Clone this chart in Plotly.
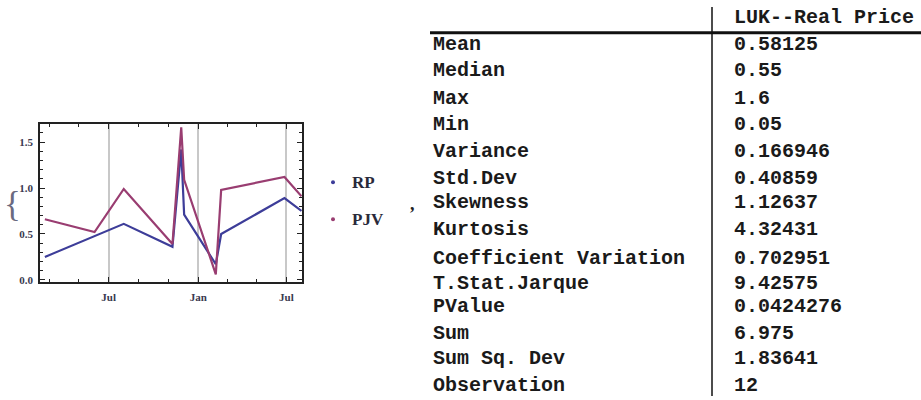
import plotly.graph_objects as go

# ---------------- data ----------------
dates = ["2010-02-20", "2010-06-02", "2010-08-01", "2010-11-09", "2010-11-27",
         "2010-12-03", "2011-02-06", "2011-02-17", "2011-06-27", "2011-08-01"]
rp = [0.25, 0.475, 0.61, 0.36, 1.42, 0.71, 0.17, 0.50, 0.89, 0.75]
pjv = [0.66, 0.52, 0.99, 0.39, 1.66, 1.09, 0.06, 0.98, 1.12, 0.91]

series_names = ["RP", "PJV"]
date_tick_vals = ["2010-07-01", "2011-01-01", "2011-07-01"]
date_tick_text = ["Jul", "Jan", "Jul"]
y_tick_vals = [0.0, 0.5, 1.0, 1.5]
y_tick_text = ["0.0", "0.5", "1.0", "1.5"]

table_header = "LUK--Real Price"
stat_names = ["Mean", "Median", "Max", "Min", "Variance", "Std.Dev", "Skewness",
              "Kurtosis", "Coefficient Variation", "T.Stat.Jarque", "PValue", "Sum",
              "Sum Sq. Dev", "Observation"]
stat_values = ["0.58125", "0.55", "1.6", "0.05", "0.166946", "0.40859", "1.12637",
               "4.32431", "0.702951", "9.42575", "0.0424276", "6.975", "1.83641", "12"]

# ---------------- layout constants ----------------
W, H = 921, 400
colors = ["#3d3d99", "#993d71"]


def px(x):
    return x / W


def py(y):
    return 1 - y / H


fig = go.Figure()
for name, vals, c in zip(series_names, [rp, pjv], colors):
    fig.add_trace(go.Scatter(x=dates, y=vals, mode="lines", name=name,
                             line=dict(color=c, width=2.2), showlegend=False))

tickfont = dict(family="Liberation Serif", size=11, color="#3a3a50", weight="bold")
fig.update_layout(
    width=W, height=H, margin=dict(l=0, r=0, t=0, b=0),
    paper_bgcolor="white", plot_bgcolor="white",
    xaxis=dict(domain=[px(40), px(302)], type="date",
               range=["2010-02-10", "2011-08-02"],
               tickvals=date_tick_vals, ticktext=date_tick_text,
               ticks="inside", ticklen=5, tickcolor="#222", tickwidth=1,
               ticklabelstandoff=4,
               showgrid=True, gridcolor="#c8c8c8", gridwidth=1.5,
               showline=True, linecolor="#222", linewidth=1.5, mirror="allticks",
               zeroline=False, tickfont=tickfont,
               minor=dict(tick0="2010-01-01", dtick="M2", ticks="inside",
                          ticklen=3, tickcolor="#222", showgrid=False)),
    yaxis=dict(domain=[py(285), py(125)], range=[-0.025, 1.70],
               tickvals=y_tick_vals, ticktext=y_tick_text,
               ticks="inside", ticklen=5, tickcolor="#222", tickwidth=1,
               ticklabelstandoff=3,
               showgrid=False, showline=True, linecolor="#222", linewidth=1.5,
               mirror="allticks", zeroline=False, tickfont=tickfont,
               minor=dict(dtick=0.1, ticks="inside", ticklen=3, tickcolor="#222",
                          showgrid=False)),
)

# legend (manual, Mathematica style)
leg_y = [184, 221.5]
for name, c, yy in zip(series_names, colors, leg_y):
    fig.add_shape(type="circle", xref="paper", yref="paper",
                  x0=px(331), x1=px(335), y0=py(yy + 2), y1=py(yy - 2),
                  fillcolor=c, line=dict(width=0))
    fig.add_annotation(x=px(350), y=py(yy), xref="paper", yref="paper",
                       text="<b>%s</b>" % name, showarrow=False, xanchor="left", yanchor="middle",
                       font=dict(family="Liberation Serif", size=17, color="#2a2a3a"))
fig.add_annotation(x=px(412), y=py(206), xref="paper", yref="paper", text="<b>,</b>",
                   showarrow=False, font=dict(family="Liberation Serif", size=18, color="#222"))
fig.add_annotation(x=px(2), y=py(207), xref="paper", yref="paper", text="{",
                   showarrow=False, xanchor="left",
                   font=dict(family="Liberation Serif", size=35, color="#6a6a80"))

# table
mono = dict(family="Liberation Mono", size=20, color="#1a1a1a")
row_y = [45, 71.7, 99, 126, 152.7, 180, 205, 231.7, 261, 286, 310, 336.7, 362.3, 389]
fig.add_annotation(x=px(732), y=py(18), xref="paper", yref="paper", text="<b>%s</b>" % table_header,
                   showarrow=False, xanchor="left", yanchor="middle", font=mono)
for name, val, yy in zip(stat_names, stat_values, row_y):
    fig.add_annotation(x=px(431), y=py(yy), xref="paper", yref="paper", text="<b>%s</b>" % name,
                       showarrow=False, xanchor="left", yanchor="middle", font=mono)
    fig.add_annotation(x=px(732), y=py(yy), xref="paper", yref="paper", text="<b>%s</b>" % val,
                       showarrow=False, xanchor="left", yanchor="middle", font=mono)
fig.add_shape(type="line", xref="paper", yref="paper", x0=px(430), x1=1, y0=py(33), y1=py(33),
              line=dict(color="#111", width=3))
fig.add_shape(type="line", xref="paper", yref="paper", x0=px(712), x1=px(712), y0=py(7), y1=0,
              line=dict(color="#111", width=1.5))

fig.write_html("out.html", config={"displayModeBar": False},
               post_script="document.body.style.margin='0';")
